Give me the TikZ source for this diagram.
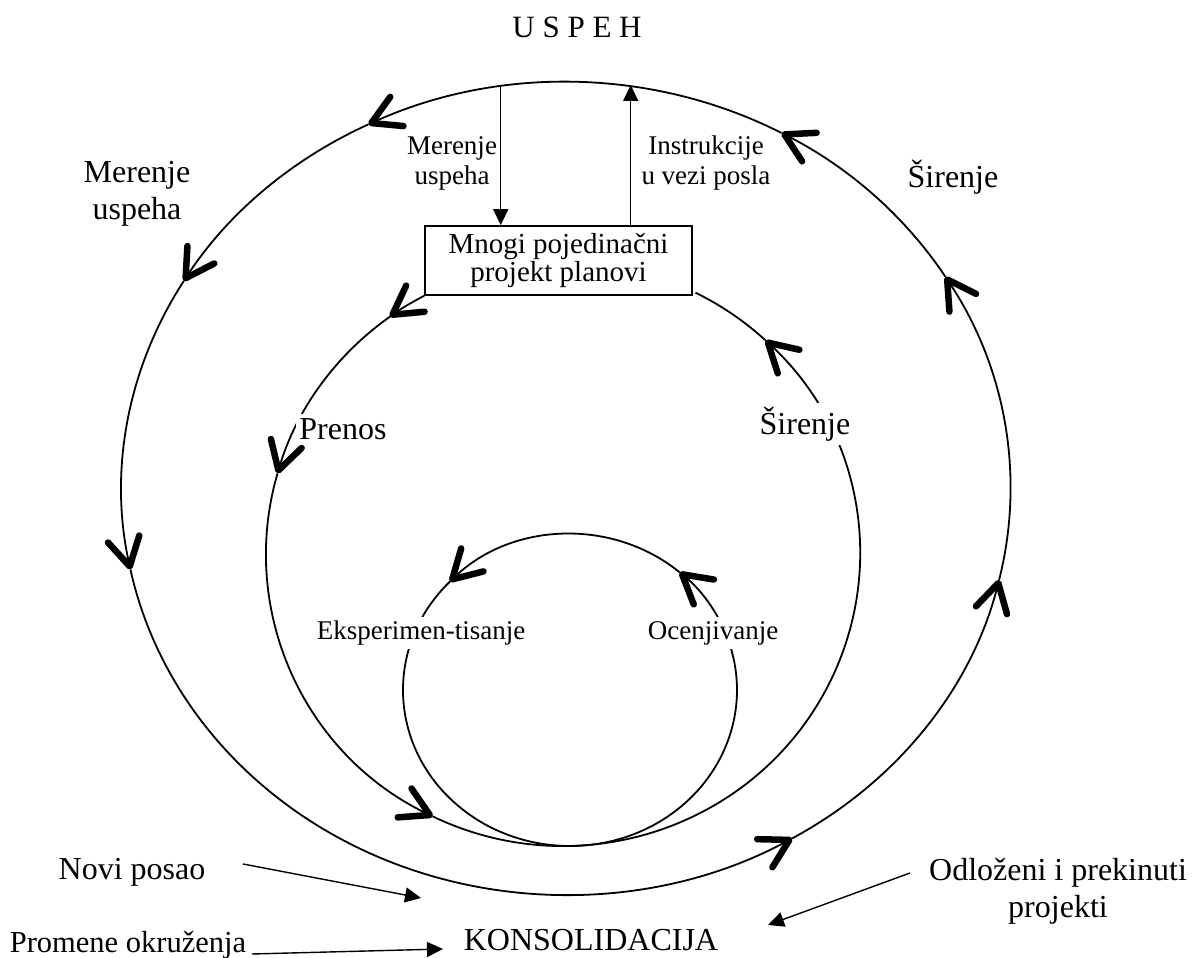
\documentclass[tikz,border=0pt]{standalone}
\usepackage{fontspec}
\setmainfont{Liberation Serif}
\usetikzlibrary{arrows.meta,calc}

\begin{document}
\begin{tikzpicture}[x=1pt,y=1pt,
  loopline/.style={line width=1.8pt},
  chev/.style={loopline,-{Straight Barb[length=28pt,width=32pt,line width'=6.5pt,round]}},
  conn/.style={line width=1.4pt,-{Triangle[length=16pt,width=15pt]}},
  big/.style={font=\fontsize{32}{37}\selectfont,align=center},
  small/.style={font=\fontsize{27}{30}\selectfont,align=center},
  cut/.style={fill=white,inner xsep=3pt,inner ysep=4pt}
]
\useasboundingbox (0,0) rectangle (1192,958);

% centres of the three loops
\coordinate (oc) at (566,469.5);
\coordinate (mc) at (563,404);
\coordinate (ic) at (570,268);

% central box
\node[draw,line width=1.6pt,minimum width=267pt,minimum height=69pt,inner sep=0pt,
      font=\fontsize{29}{28}\selectfont,align=center] (box) at (558.5,697.5)
      {Mnogi pojedinačni\\projekt planovi};

% outer loop, one arrowed arc per segment
\foreach \a/\b in {31.4/61,61/116.4,116.4/149.3,149.3/191.5,191.5/300.6,300.6/347,347/391.4}
  \draw[chev] ($(oc)+(\a:444.5pt and 406.5pt)$)
    arc[start angle=\a,end angle=\b,x radius=444.5pt,y radius=406.5pt];

% middle loop, leaving the box and coming back to it
\draw[chev] (box.south west)
    arc[start angle=117.7,end angle=125.5,x radius=297pt,y radius=292pt];
\foreach \a/\b in {125.5/164,164/244,244/407}
  \draw[chev] ($(mc)+(\a:297pt and 292pt)$)
    arc[start angle=\a,end angle=\b,x radius=297pt,y radius=292pt];
\draw[loopline] ($(mc)+(407:297pt and 292pt)$)
    arc[start angle=407,end angle=423.5,x radius=297pt,y radius=292pt];

% inner loop
\foreach \a/\b in {49/136,136/409}
  \draw[chev] ($(ic)+(\a:167pt and 156pt)$)
    arc[start angle=\a,end angle=\b,x radius=167pt,y radius=156pt];

% links between the outer loop and the box
\coordinate (mtop) at (500.7,872);
\coordinate (itop) at (630.7,873);
\draw[conn] (mtop) -- (mtop |- box.north);
\draw[conn] (itop |- box.north) -- (itop);

% labels
\node[font=\fontsize{31}{36}\selectfont] (uspeh) at (577,931) {U S P E H};
\node[small] (lm) at (452,795) {Merenje\\uspeha};
\node[small] (li) at (706,795) {Instrukcije\\u vezi posla};
\node[big] (lmbig) at (137,764.5) {Merenje\\uspeha};
\node[big] (lsbig) at (953,781) {Širenje};
\node[big,cut] (lpren) at (343,529) {Prenos};
\node[big,cut] (lsmid) at (805,534) {Širenje};
\node[small,cut] (leks) at (421,325) {Eksperimen-tisanje};
\node[small,cut] (loce) at (713,325) {Ocenjivanje};
\node[big] (novi) at (132,86) {Novi posao};
\node[font=\fontsize{30.5}{36}\selectfont] (prom) at (128,13) {Promene okruženja};
\node[big] (kons) at (591,18) {KONSOLIDACIJA};
\node[big] (odl) at (1058,66.5) {Odloženi i prekinuti\\projekti};

% inflows into consolidation
\coordinate (noviA) at (243,94);
\coordinate (noviB) at (421,60);
\coordinate (promA) at (252,4);
\coordinate (promB) at (443,9);
\coordinate (odlA) at (910,85);
\coordinate (odlB) at (768,33);
\draw[conn] (noviA) -- (noviB);
\draw[conn] (promA) -- (promB);
\draw[conn] (odlA) -- (odlB);
\end{tikzpicture}
\end{document}
